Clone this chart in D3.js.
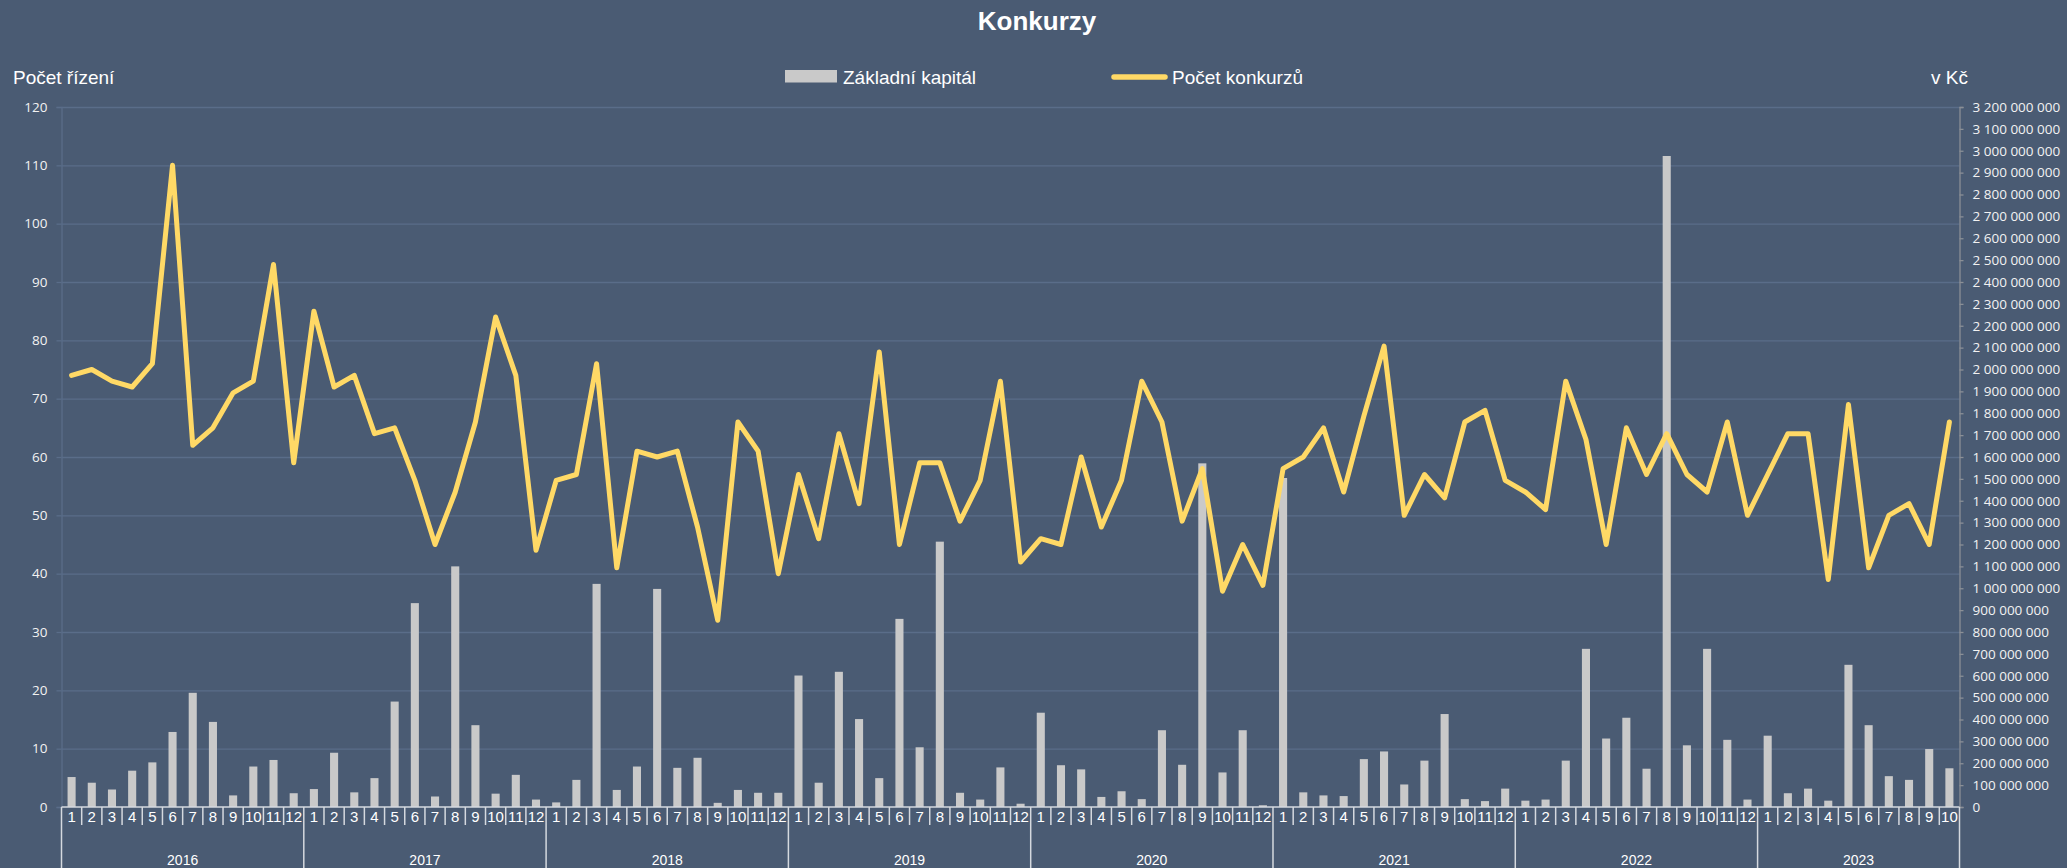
<!DOCTYPE html>
<html><head><meta charset="utf-8">
<script src="https://cdn.jsdelivr.net/npm/d3@7"></script>
<style>
html,body{margin:0;padding:0;background:#4A5B73;}
svg{display:block;}
</style></head>
<body>
<svg id="chart" width="2067" height="868"></svg>
<script>
// ---- data ----
const years = [2016, 2017, 2018, 2019, 2020, 2021, 2022, 2023];
const monthsPerYear = [12, 12, 12, 12, 12, 12, 12, 10];
const monthLabels = ["1","2","3","4","5","6","7","8","9","10","11","12"];
const leftTicks = [0,10,20,30,40,50,60,70,80,90,100,110,120];
const seriesBarName = "Základní kapitál";
const seriesLineName = "Počet konkurzů";
// Počet konkurzů (count per month)
const pocetKonkurzu = [
  74,75,73,72,76,110,62,65,71,73,93,59,
  85,72,74,64,65,56,45,54,66,84,74,44,
  56,57,76,41,61,60,61,48,32,66,61,40,
  57,46,64,52,78,45,59,59,49,56,73,42,
  46,45,60,48,56,73,66,49,58,37,45,38,
  58,60,65,54,67,79,50,57,53,66,68,56,
  54,51,73,63,45,65,57,64,57,54,66,50,
  57,64,64,39,69,41,50,52,45,66
];
// Základní kapitál in millions Kč
const zakladniKapitalMil = [
  137,111,80,166,204,343,522,389,53,185,215,63,
  82,248,67,132,482,932,48,1100,374,61,147,34,
  21,124,1020,78,185,997,179,225,19,78,65,65,
  601,111,618,402,132,860,273,1213,65,34,181,15,
  431,191,172,46,72,36,351,193,1571,158,351,8,
  1504,67,53,50,219,254,103,212,425,36,27,84,
  29,34,212,723,313,408,175,2976,282,723,307,34,
  326,63,84,29,650,374,141,124,265,177
];

// ---- build categories ----
const cats = [];
years.forEach((y, yi) => {
  for (let m = 0; m < monthsPerYear[yi]; m++) cats.push({year: y, month: monthLabels[m]});
});
const idx = cats.map((d, i) => i);
const zakladniKapital = zakladniKapitalMil.map(v => v * 1e6);

// ---- layout ----
const svg = d3.select("#chart");
const L = 61.5, R = 1959.5, T = 107, B = 807;
const bg = "#4A5B73", gridCol = "#5A6D89", txt = "#FFFFFF";
const barCol = "#C9C9C9", lineCol = "#FFD966", sepCol = "#D5D9DF";
const fontNarrow = "'Liberation Sans Narrow','Liberation Sans',Arial,sans-serif";
const fontMain = "'Liberation Sans',Arial,sans-serif";
const fontTick = "'Open Sans','DejaVu Sans',sans-serif";

svg.append("rect").attr("width", 2067).attr("height", 868).attr("fill", bg);

const xCat = d3.scaleBand().domain(idx).range([L, R]).padding(0);
const xBar = d3.scaleBand().domain(idx).range([L, R]).paddingInner(0.6).paddingOuter(0.3);
const yL = d3.scaleLinear().domain([0, 120]).range([B, T]);
const yR = d3.scaleLinear().domain([0, 3.2e9]).range([B, T]);

// gridlines
const grid = svg.append("g").attr("transform", `translate(${L},0)`)
  .call(d3.axisLeft(yL).tickValues(leftTicks.slice(1)).tickSize(-(R - L)).tickFormat(""));
grid.select(".domain").remove();
grid.selectAll("line").attr("stroke", gridCol).attr("stroke-width", 1.3);

// left axis
const gL = svg.append("g").attr("transform", `translate(${L},0)`)
  .call(d3.axisLeft(yL).tickValues(leftTicks).tickSize(5).tickPadding(9));
gL.select(".domain").attr("stroke", gridCol).attr("stroke-width", 1.3);
gL.selectAll("line").attr("stroke", gridCol).attr("stroke-width", 1.3);
gL.selectAll("text").attr("fill", "#F2F2F2").attr("font-family", fontTick).attr("font-size", 13.5);

// right axis
const fmtR = v => d3.format(",")(v).replace(/,/g, " ");
const gR = svg.append("g").attr("transform", `translate(${R},0)`)
  .call(d3.axisRight(yR).tickValues(d3.range(0, 3.2e9 + 1, 1e8)).tickSize(4).tickPadding(9).tickFormat(fmtR));
gR.select(".domain").attr("stroke", "#8A8F96").attr("stroke-width", 1.3);
gR.selectAll("line").attr("stroke", "#8A8F96").attr("stroke-width", 1.3);
gR.selectAll("text").attr("fill", "#F2F2F2").attr("font-family", fontTick).attr("font-size", 13.5);

// bars
svg.append("g").selectAll("rect").data(zakladniKapital).join("rect")
  .attr("x", (d, i) => xBar(i))
  .attr("width", xBar.bandwidth())
  .attr("y", d => yR(d))
  .attr("height", d => yR(0) - yR(d))
  .attr("fill", barCol);

// line
const line = d3.line().x((d, i) => xCat(i) + xCat.bandwidth() / 2).y(d => yL(d));
svg.append("path").datum(pocetKonkurzu)
  .attr("d", line).attr("fill", "none").attr("stroke", lineCol)
  .attr("stroke-width", 5).attr("stroke-linejoin", "round").attr("stroke-linecap", "round");

// bottom category axis (two levels)
const gx = svg.append("g");
gx.append("line").attr("x1", L).attr("x2", R).attr("y1", B).attr("y2", B)
  .attr("stroke", sepCol).attr("stroke-width", 1.5);
// year boundaries
const yearStarts = [];
let acc = 0;
monthsPerYear.forEach(n => { yearStarts.push(acc); acc += n; });
const isYearStart = new Set(yearStarts);
// month separators
idx.forEach(i => {
  if (!isYearStart.has(i)) {
    gx.append("line").attr("x1", xCat(i)).attr("x2", xCat(i)).attr("y1", B).attr("y2", 825)
      .attr("stroke", sepCol).attr("stroke-width", 1.5);
  }
});
// year separators (incl. both ends)
[...yearStarts.map(i => xCat(i)), R].forEach(xv => {
  gx.append("line").attr("x1", xv).attr("x2", xv).attr("y1", B).attr("y2", 868)
    .attr("stroke", sepCol).attr("stroke-width", 1.5);
});
// month labels
gx.selectAll("text.m").data(cats).join("text").attr("class", "m")
  .attr("x", (d, i) => xCat(i) + xCat.bandwidth() / 2)
  .attr("y", 822)
  .attr("text-anchor", "middle")
  .attr("font-family", fontNarrow).attr("font-size", 15).attr("fill", txt)
  .text(d => d.month);
// year labels
gx.selectAll("text.y").data(years).join("text").attr("class", "y")
  .attr("x", (d, yi) => {
    const s = xCat(yearStarts[yi]);
    const e = yi + 1 < yearStarts.length ? xCat(yearStarts[yi + 1]) : R;
    return (s + e) / 2;
  })
  .attr("y", 864.5)
  .attr("text-anchor", "middle")
  .attr("font-family", fontMain).attr("font-size", 14).attr("fill", txt)
  .text(d => d);

// title
svg.append("text").attr("x", 1037).attr("y", 30).attr("text-anchor", "middle")
  .attr("font-family", fontMain).attr("font-weight", "bold").attr("font-size", 26)
  .attr("fill", txt).text("Konkurzy");

// axis titles
svg.append("text").attr("x", 13).attr("y", 84).attr("font-family", fontMain)
  .attr("font-size", 19).attr("fill", txt).text("Počet řízení");
svg.append("text").attr("x", 1931).attr("y", 84).attr("font-family", fontMain)
  .attr("font-size", 19).attr("fill", txt).text("v Kč");

// legend
const lg = svg.append("g");
lg.append("rect").attr("x", 785).attr("y", 70).attr("width", 52).attr("height", 12.5).attr("fill", barCol);
lg.append("text").attr("x", 843).attr("y", 83.5).attr("font-family", fontMain)
  .attr("font-size", 19).attr("fill", txt).text(seriesBarName);
lg.append("line").attr("x1", 1114).attr("x2", 1165).attr("y1", 77).attr("y2", 77)
  .attr("stroke", lineCol).attr("stroke-width", 5.5).attr("stroke-linecap", "round");
lg.append("text").attr("x", 1172).attr("y", 83.5).attr("font-family", fontMain)
  .attr("font-size", 19).attr("fill", txt).text(seriesLineName);
</script>
</body></html>
